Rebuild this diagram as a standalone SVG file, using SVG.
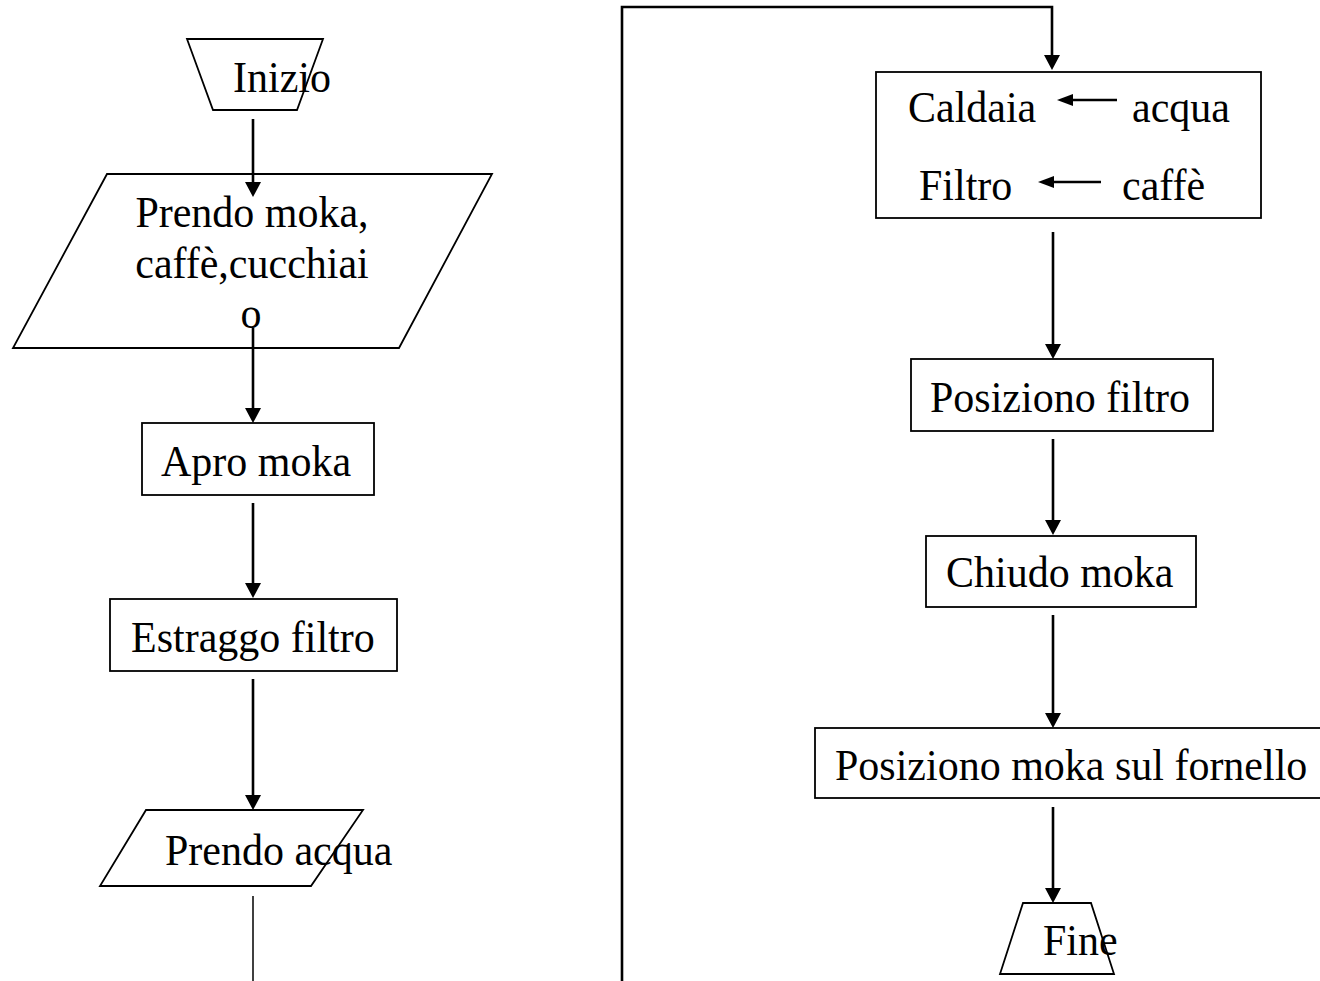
<svg xmlns="http://www.w3.org/2000/svg" width="1320" height="981" viewBox="0 0 1320 981">
<style>
.shape{fill:#fff;stroke:#000;stroke-width:1.8}
.conn{fill:none;stroke:#000;stroke-width:2.6}
.thin{fill:none;stroke:#000;stroke-width:1.5}
.t{font-family:"Liberation Serif","Times New Roman",serif;font-size:42px;fill:#000}
.m{text-anchor:middle}
</style>
<defs>
<marker id="arr" viewBox="0 0 15 16" markerWidth="15" markerHeight="16" refX="7" refY="8" orient="auto" markerUnits="userSpaceOnUse">
<path d="M0,0 L15,8 L0,16 z" fill="#000"/>
</marker>
<marker id="arrs" viewBox="0 0 16 12" markerWidth="16" markerHeight="12" refX="7" refY="6" orient="auto" markerUnits="userSpaceOnUse">
<path d="M0,0 L16,6 L0,12 z" fill="#000"/>
</marker>
</defs>
<rect width="1320" height="981" fill="#fff"/>

<g id="inizio">
<polygon class="shape" points="187,39 323,39 297,110 213,110"/>
<text class="t" transform="translate(233,92) scale(1,1.06)">Inizio</text>
</g>

<g id="prendo-moka">
<polygon class="shape" points="107,174 492,174 399,348 13,348"/>
<text class="t m" transform="translate(252,227) scale(1,1.06)">Prendo moka,</text>
<text class="t m" transform="translate(252,278) scale(1,1.06)">caffè,cucchiai</text>
<text class="t m" transform="translate(251,328) scale(1,1.06)">o</text>
</g>

<g id="apro-moka">
<rect class="shape" x="142" y="423" width="232" height="72"/>
<text class="t" transform="translate(161,476) scale(1,1.06)">Apro moka</text>
</g>

<g id="estraggo-filtro">
<rect class="shape" x="110" y="599" width="287" height="72"/>
<text class="t" transform="translate(131,652) scale(1,1.06)">Estraggo filtro</text>
</g>

<g id="prendo-acqua">
<polygon class="shape" points="146,810 363,810 311,886 100,886"/>
<text class="t" transform="translate(165,865) scale(1,1.06)">Prendo acqua</text>
</g>

<g id="caldaia-filtro">
<rect class="shape" x="876" y="72" width="385" height="146"/>
<text class="t" transform="translate(908,122) scale(1,1.06)">Caldaia</text>
<text class="t" transform="translate(1132,122) scale(1,1.06)">acqua</text>
<text class="t" transform="translate(919,200) scale(1,1.06)">Filtro</text>
<text class="t" transform="translate(1122,200) scale(1,1.06)">caffè</text>
<line class="conn" x1="1117" y1="100" x2="1066" y2="100" marker-end="url(#arrs)"/>
<line class="conn" x1="1101" y1="182" x2="1047" y2="182" marker-end="url(#arrs)"/>
</g>

<g id="posiziono-filtro">
<rect class="shape" x="911" y="359" width="302" height="72"/>
<text class="t" transform="translate(930,412) scale(1,1.06)">Posiziono filtro</text>
</g>

<g id="chiudo-moka">
<rect class="shape" x="926" y="536" width="270" height="71"/>
<text class="t" transform="translate(946,587) scale(1,1.06)">Chiudo moka</text>
</g>

<g id="posiziono-moka">
<rect class="shape" x="815" y="728" width="515" height="70"/>
<text class="t" transform="translate(835,780) scale(1,1.06)">Posiziono moka sul fornello</text>
</g>

<g id="fine">
<polygon class="shape" points="1023,903 1091,903 1114,974 1000,974"/>
<text class="t" transform="translate(1043,955) scale(1,1.06)">Fine</text>
</g>

<g id="connectors">
<line class="conn" x1="253" y1="119" x2="253" y2="189" marker-end="url(#arr)"/>
<line class="conn" x1="253" y1="328" x2="253" y2="415" marker-end="url(#arr)"/>
<line class="conn" x1="253" y1="503" x2="253" y2="590" marker-end="url(#arr)"/>
<line class="conn" x1="253" y1="679" x2="253" y2="802" marker-end="url(#arr)"/>
<line class="thin" x1="253" y1="896" x2="253" y2="981"/>
<polyline class="conn" points="622,981 622,7 1052,7 1052,62" marker-end="url(#arr)"/>
<line class="conn" x1="1053" y1="232" x2="1053" y2="351" marker-end="url(#arr)"/>
<line class="conn" x1="1053" y1="439" x2="1053" y2="527" marker-end="url(#arr)"/>
<line class="conn" x1="1053" y1="615" x2="1053" y2="720" marker-end="url(#arr)"/>
<line class="conn" x1="1053" y1="807" x2="1053" y2="895" marker-end="url(#arr)"/>
</g>
</svg>
